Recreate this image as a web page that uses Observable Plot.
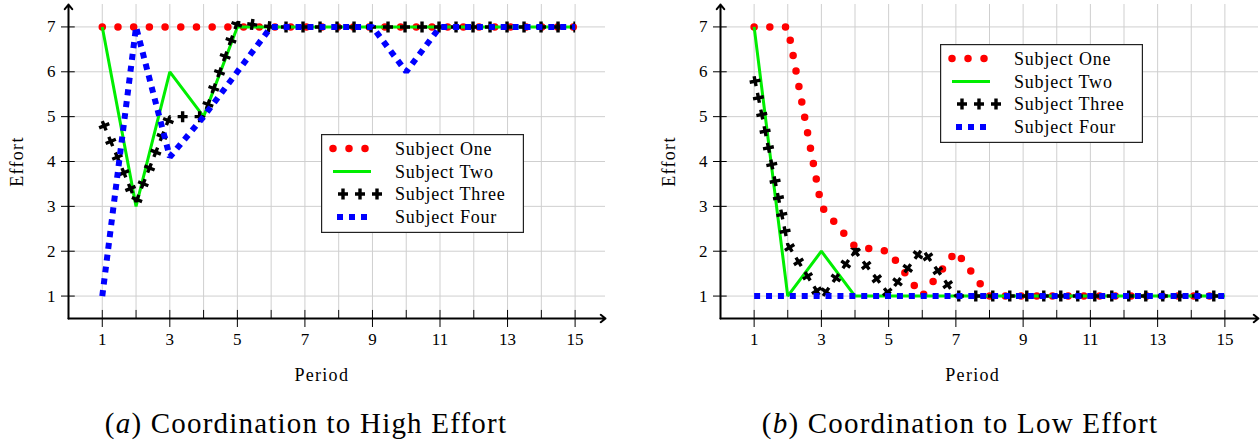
<!DOCTYPE html>
<html><head><meta charset="utf-8">
<script src="https://cdn.jsdelivr.net/npm/d3@7"></script>
<script src="https://cdn.jsdelivr.net/npm/@observablehq/plot@0.6"></script>
<style>
body{margin:0;background:#fff;}
#wrap{position:relative;width:1260px;height:446px;overflow:hidden;background:#fff;}
.abs{position:absolute;}
svg{overflow:visible;}
</style></head><body><div id="wrap"></div>
<script>
// ---------- data ----------
const periods = [1,2,3,4,5,6,7,8,9,10,11,12,13,14,15];
const effortTicks = [1,2,3,4,5,6,7];
const periodTicks = [1,3,5,7,9,11,13,15];
const seriesNames = ["Subject One","Subject Two","Subject Three","Subject Four"];
const captionLetters = ["a","b"];
const captionTexts = ["Coordination to High Effort","Coordination to Low Effort"];
const xLabel = "Period";
const yLabel = "Effort";

// (a) Coordination to High Effort
const highOne   = [7,7,7,7,7,7,7,7,7,7,7,7,7,7,7];
const highTwo   = [7,3,6,5,7,7,7,7,7,7,7,7,7,7,7];
const highThree = [4.9,3.1,5,5,7.1,7,7,7,7,7,7,7,7,7,7];
const highFour  = [1,7,4.1,5,6,7,7,7,7,6,7,7,7,7,7];

// (b) Coordination to Low Effort
const lowOne   = [7,7,3,2.1,2,1,2,1,1,1,1,1,1,1,1];
const lowTwo   = [7,1,2,1,1,1,1,1,1,1,1,1,1,1,1];
const lowThree = [5.9,2.15,0.95,2,1.05,2.05,1,1,1,1,1,1,1,1,1];
const lowFour  = [1,1,1,1,1,1,1,1,1,1,1,1,1,1,1];

// ---------- styles ----------
const FONT = "Liberation Serif, DejaVu Serif, serif";
const GRID = "#cfcfcf";
const RED = "#ff0000", GREEN = "#00ee00", BLUE = "#0000ff", BLACK = "#000000";

const toRows = arr => periods.map((p, i) => ({period: p, effort: arr[i]}));

function seriesMarks(rowsArr) {
  const [one, two, three, four] = rowsArr.map(toRows);
  const xy = {x: "period", y: "effort"};
  return [
    Plot.line(one, {...xy, stroke: RED, strokeWidth: 7.5, strokeDasharray: "0 15.7", strokeLinecap: "round", strokeLinejoin: "round"}),
    Plot.line(two, {...xy, stroke: GREEN, strokeWidth: 3, strokeLinecap: "butt", strokeLinejoin: "miter"}),
    Plot.line(three, {...xy, stroke: BLACK, strokeWidth: 3.4, strokeDasharray: "10 7", strokeDashoffset: 0, strokeLinecap: "butt", strokeLinejoin: "bevel"}),
    Plot.line(three, {...xy, stroke: BLACK, strokeWidth: 11, strokeDasharray: "3.4 13.6", strokeDashoffset: -3.3, strokeLinecap: "butt", strokeLinejoin: "bevel"}),
    Plot.line(four, {...xy, stroke: BLUE, strokeWidth: 6, strokeDasharray: "6 5.9", strokeLinecap: "butt", strokeLinejoin: "miter"})
  ];
}

function chart(rowsArr, width, marginRight, xMax) {
  const svg = Plot.plot({
    width, height: 390,
    marginLeft: 68, marginRight, marginTop: 4, marginBottom: 72,
    x: {domain: [0, xMax]},
    y: {domain: [0.5, 7.5]},
    style: {fontFamily: FONT, fontSize: "17px", background: "transparent", overflow: "visible", color: "black"},
    marks: [
      Plot.ruleX(periods, {y1: 0.68, y2: 7.5, stroke: GRID, strokeWidth: 1}),
      Plot.ruleY(effortTicks, {x1: 0, x2: xMax, stroke: GRID, strokeWidth: 1}),
      ...seriesMarks(rowsArr),
      Plot.ruleX(periods, {y1: 0.5, y2: 0.68, stroke: BLACK, strokeWidth: 1}),
      Plot.ruleY(effortTicks, {x1: 0, x2: 0.2, stroke: BLACK, strokeWidth: 1}),
      Plot.axisX({ticks: periodTicks, tickSize: 9, tickPadding: 5, label: null, fontSize: 17, tickFormat: d3.format("d"), fill: BLACK}),
      Plot.axisY({ticks: effortTicks, tickSize: 7, tickPadding: 6, label: null, fontSize: 17, tickFormat: d3.format("d"), fill: BLACK}),
      Plot.arrow([0], {x1: 0, y1: 0.5, x2: xMax, y2: 0.5, stroke: BLACK, strokeWidth: 2, headLength: 4.5, headAngle: 76}),
      Plot.arrow([0], {x1: 0, y1: 0.5, x2: 0, y2: 7.5, stroke: BLACK, strokeWidth: 2, headLength: 4.5, headAngle: 76}),
      Plot.text([xLabel], {x: 7.5, y: 0.5, dy: 57, text: d => d, fontSize: 18, fill: BLACK}),
      Plot.text([yLabel], {x: 0, y: 4, dx: -51, rotate: -90, text: d => d, fontSize: 18, fill: BLACK})
    ]
  });
  svg.querySelectorAll("text").forEach(t => {
    if (t.textContent === xLabel || t.textContent === yLabel) t.style.letterSpacing = "1.3px";
  });
  return svg;
}

function legend(left, top) {
  const W = 203, H = 99, rowY = [14.5, 37.5, 60, 83];
  const svg = d3.create("svg").attr("width", W).attr("height", H)
    .attr("class", "abs").style("left", left + "px").style("top", top + "px");
  svg.append("rect").attr("x", 0.6).attr("y", 0.6).attr("width", W - 1.2).attr("height", H - 1.2)
    .attr("fill", "white").attr("stroke", "#222").attr("stroke-width", 1.2);
  const sx = 12;
  const seg = (y, x1, x2) => svg.append("line").attr("x1", x1).attr("x2", x2).attr("y1", y).attr("y2", y);
  seg(rowY[0], sx, sx + 33).attr("stroke", RED).attr("stroke-width", 7.5).attr("stroke-dasharray", "0 16").attr("stroke-linecap", "round");
  seg(rowY[1], sx, sx + 38).attr("stroke", GREEN).attr("stroke-width", 3);
  seg(rowY[2], sx + 5, sx + 56).attr("stroke", BLACK).attr("stroke-width", 3.4).attr("stroke-dasharray", "10 7");
  seg(rowY[2], sx + 5, sx + 56).attr("stroke", BLACK).attr("stroke-width", 11).attr("stroke-dasharray", "3.4 13.6").attr("stroke-dashoffset", -3.3);
  seg(rowY[3], sx + 4, sx + 36).attr("stroke", BLUE).attr("stroke-width", 6).attr("stroke-dasharray", "6 6");
  seriesNames.forEach((name, i) => {
    svg.append("text").attr("x", 74).attr("y", rowY[i] + 6)
      .style("font-family", FONT).style("font-size", "18px").style("letter-spacing", "0.8px")
      .attr("fill", BLACK).text(name);
  });
  return svg.node();
}

const wrap = document.getElementById("wrap");
const left = chart([highOne, highTwo, highThree, highFour], 620, 15, 15.9);
left.classList.add("abs"); left.style.left = "0px"; left.style.top = "0px";
const right = chart([lowOne, lowTwo, lowThree, lowFour], 608, 2, 16);
right.classList.add("abs"); right.style.left = "652px"; right.style.top = "0px";
wrap.appendChild(left);
wrap.appendChild(right);
wrap.appendChild(legend(321, 134));
wrap.appendChild(legend(940, 44));

// captions
const cap = d3.create("svg").attr("width", 1260).attr("height", 446).attr("class", "abs")
  .style("left", "0px").style("top", "0px").style("pointer-events", "none");
[306, 960].forEach((cx, i) => {
  const t = cap.append("text").attr("x", cx).attr("y", 433).attr("text-anchor", "middle")
    .style("font-family", FONT).style("font-size", "29px").style("letter-spacing", "1.2px").attr("fill", BLACK);
  t.append("tspan").text("(");
  t.append("tspan").attr("font-style", "italic").text(captionLetters[i]);
  t.append("tspan").text(") " + captionTexts[i]);
});
wrap.appendChild(cap.node());
</script>
</body></html>
